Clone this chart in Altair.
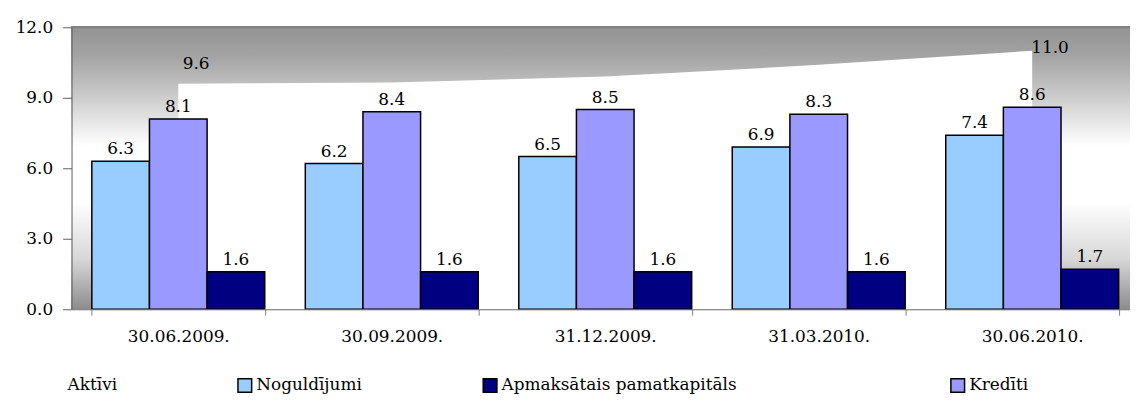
import altair as alt
import pandas as pd

dates = ["30.06.2009.", "30.09.2009.", "31.12.2009.", "31.03.2010.", "30.06.2010."]
noguldijumi = [6.3, 6.2, 6.5, 6.9, 7.4]
krediti = [8.1, 8.4, 8.5, 8.3, 8.6]
kapitals = [1.6, 1.6, 1.6, 1.6, 1.7]
aktivi = [9.6, 9.65, 9.9, 10.4, 11.0]
aktivi_shown = [True, False, False, False, True]

series_names = ["Aktīvi", "Noguldījumi", "Apmaksātais pamatkapitāls", "Kredīti"]
series_fill = ["#FFFFFF", "#99CCFF", "#000080", "#9999FF"]
series_stroke = ["#FFFFFF", "#000000", "#000000", "#000000"]
bar_order = ["Noguldījumi", "Kredīti", "Apmaksātais pamatkapitāls"]

FONT = "DejaVu Serif"
FS = 17

rows = []
for d, a, b, c in zip(dates, noguldijumi, krediti, kapitals):
    rows.append({"date": d, "series": "Noguldījumi", "value": a})
    rows.append({"date": d, "series": "Kredīti", "value": b})
    rows.append({"date": d, "series": "Apmaksātais pamatkapitāls", "value": c})
bars_df = pd.DataFrame(rows)
area_df = pd.DataFrame({"date": dates, "value": aktivi, "series": "Aktīvi", "shown": aktivi_shown})

W = 1066
H = 284

x_scale = alt.Scale(domain=dates, range=[0, 1075], paddingInner=0.19, paddingOuter=0.095)
y_scale = alt.Scale(domain=[0, 12], nice=False)
color_scale = alt.Scale(domain=series_names, range=series_fill)
stroke_scale = alt.Scale(domain=series_names, range=series_stroke)

x_axis = alt.Axis(title=None, labelFont=FONT, labelFontSize=FS, labelColor="black",
                  tickBand="extent", tickSize=6, tickColor="#808080", domainColor="#808080",
                  labelPadding=13, labelAngle=0, zindex=1)
y_axis = alt.Axis(title=None, values=[0, 3, 6, 9, 12], format=".1f", labelFont=FONT,
                  labelFontSize=FS, labelColor="black", tickSize=9, tickColor="#606060",
                  domainColor="#606060", labelPadding=10, grid=False, zindex=1)

# invisible trailing space (closed by a zero-width char so it is not trimmed) widens the
# long entry so "Kredīti" sits where the reference has it
legend = alt.Legend(title=None, orient="none", legendX=-24, legendY=352, direction="horizontal",
                    columns=4, columnPadding=118, symbolType="square", symbolSize=190,
                    symbolStrokeWidth=1.5, labelFont=FONT, labelFontSize=FS, labelColor="black",
                    labelOffset=3, padding=0, labelLimit=600,
                    labelExpr="indexof(datum.label, 'pamat') >= 0 ? datum.label + '"
                              + "\u2003" * 5 + "\u2002" + "\u200b" + "' : datum.label")

gradient = alt.LinearGradient(
    gradient="linear", x1=0, x2=0, y1=0, y2=1,
    stops=[
        alt.GradientStop(color="#939393", offset=0),
        alt.GradientStop(color="#a3a3a3", offset=0.1),
        alt.GradientStop(color="#c4c4c4", offset=0.22),
        alt.GradientStop(color="#ffffff", offset=0.42),
        alt.GradientStop(color="#ffffff", offset=0.62),
        alt.GradientStop(color="#d8d8d8", offset=0.82),
        alt.GradientStop(color="#8c8c8c", offset=1),
    ],
)

background = alt.Chart(area_df).mark_rect(fill=gradient).encode(
    x=alt.value(0), x2=alt.value(W), y=alt.value(0), y2=alt.value(H)
)

top_line = alt.Chart(area_df).mark_rule(color="#808080", strokeWidth=1.5).encode(
    y=alt.datum(12, scale=y_scale)
)

area = alt.Chart(area_df).mark_area(strokeWidth=0, opacity=1).encode(
    x=alt.X("date:N", scale=x_scale, axis=x_axis, sort=dates, bandPosition=0.5),
    y=alt.Y("value:Q", scale=y_scale, axis=y_axis),
    color=alt.Color("series:N", scale=color_scale, legend=legend),
    stroke=alt.Stroke("series:N", scale=stroke_scale, legend=legend),
)

area_labels = alt.Chart(area_df).transform_filter("datum.shown").transform_calculate(
    ly="min(datum.value + 0.85, 11.1)"
).mark_text(font=FONT, fontSize=FS, color="black", dx=18, baseline="middle").encode(
    x=alt.X("date:N", scale=x_scale, sort=dates, bandPosition=0.5),
    y=alt.Y("ly:Q", scale=y_scale),
    text=alt.Text("value:Q", format=".1f"),
)

bars = alt.Chart(bars_df).mark_bar(strokeWidth=1.5).encode(
    x=alt.X("date:N", scale=x_scale, sort=dates),
    xOffset=alt.XOffset("series:N", sort=bar_order, scale=alt.Scale(domain=bar_order, paddingInner=0, paddingOuter=0)),
    y=alt.Y("value:Q", scale=y_scale),
    color=alt.Color("series:N", scale=color_scale, legend=legend),
    stroke=alt.Stroke("series:N", scale=stroke_scale, legend=legend),
)

bar_labels = alt.Chart(bars_df).mark_text(font=FONT, fontSize=FS, color="black",
                                         baseline="alphabetic", dy=-7).encode(
    x=alt.X("date:N", scale=x_scale, sort=dates),
    xOffset=alt.XOffset("series:N", sort=bar_order, scale=alt.Scale(domain=bar_order, paddingInner=0, paddingOuter=0)),
    y=alt.Y("value:Q", scale=y_scale),
    text=alt.Text("value:Q", format=".1f"),
)

chart = alt.layer(background, area, top_line, bars, bar_labels, area_labels).properties(
    width=W, height=H,
    autosize=alt.AutoSizeParams(type="none"),
    padding={"left": 64, "top": 18, "right": 0, "bottom": 92},
).configure_view(stroke=None).configure(background="white", font=FONT)

chart.save("out.html", embed_options={"renderer": "svg", "actions": False})
